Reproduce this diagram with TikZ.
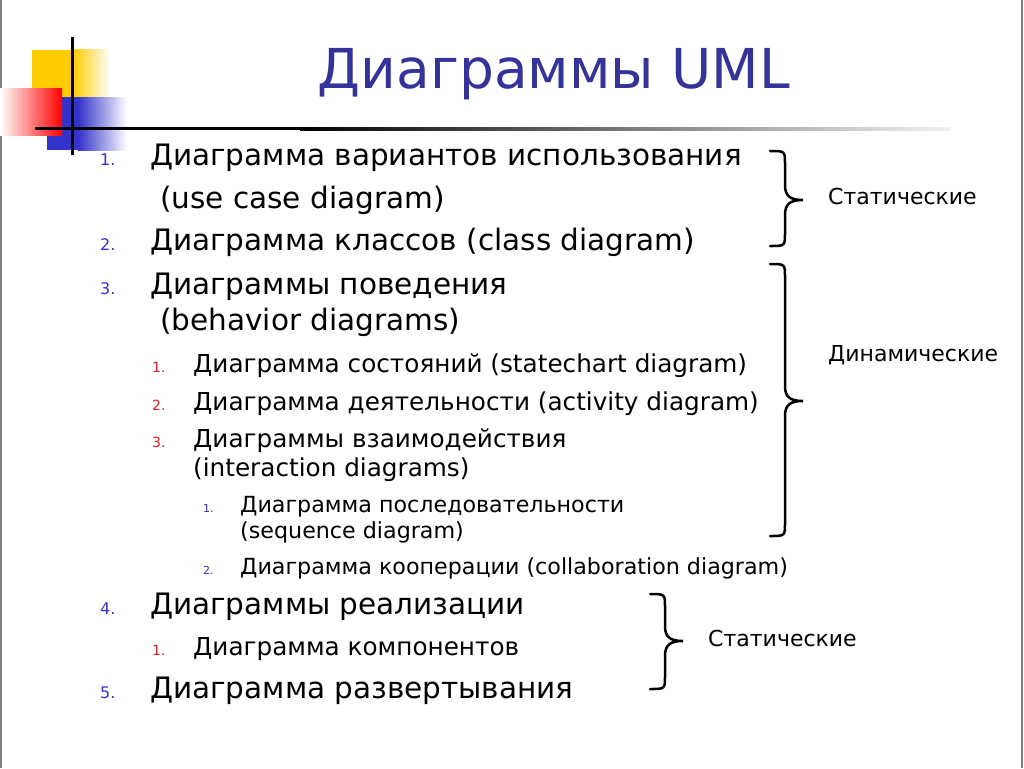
\documentclass[tikz,border=0pt]{standalone}
\usepackage{fontspec}
\setmainfont{DejaVu Sans}

\definecolor{titleblue}{RGB}{51,51,153}
\definecolor{numblue}{RGB}{51,51,204}
\definecolor{numred}{RGB}{230,30,40}
\definecolor{logoyellow}{RGB}{255,204,0}
\definecolor{logoblue}{RGB}{51,51,204}
\definecolor{logored}{RGB}{255,0,0}

\tikzset{
  lvla/.style={anchor=base west, inner sep=0pt, font=\fontsize{29.5}{29.5}\selectfont},
  lvlb/.style={anchor=base west, inner sep=0pt, font=\fontsize{24.7}{24.7}\selectfont},
  lvlc/.style={anchor=base west, inner sep=0pt, font=\fontsize{22.2}{22.2}\selectfont},
  numa/.style={anchor=base west, inner sep=0pt, text=numblue, font=\fontsize{16}{16}\selectfont},
  numb/.style={anchor=base west, inner sep=0pt, text=numred, font=\fontsize{14}{14}\selectfont},
  numc/.style={anchor=base west, inner sep=0pt, text=numblue, font=\fontsize{11}{11}\selectfont},
  side/.style={anchor=base west, inner sep=0pt, font=\fontsize{22}{22}\selectfont},
  bracket/.style={line width=2.5pt, line cap=round},
}

% x, top, tip, bottom
\newcommand{\grpbrace}[4]{%
  \draw[bracket] (#1,#2) .. controls (#1+15,#2) .. (#1+15,#2+13)
    -- (#1+15,#3-15) .. controls (#1+15,#3-4) and (#1+20,#3) .. (#1+33,#3)
    .. controls (#1+20,#3) and (#1+15,#3+4) .. (#1+15,#3+15)
    -- (#1+15,#4-13) .. controls (#1+15,#4) .. (#1,#4);}

\begin{document}
\begin{tikzpicture}[x=1pt, y=-1pt]
  \useasboundingbox (0,0) rectangle (1024,768);
  % frame
  \draw[gray, line width=1.5pt] (1,0) -- (1,768);
  \draw[gray, line width=1.5pt] (1022,0) -- (1022,768);
  % logo
  \fill[logoyellow] (32,50) rectangle (73,97);
  \shade[left color=logoyellow, right color=white] (73,50) rectangle (110,97);
  \fill[logoblue] (47,97) rectangle (78,150);
  \shade[left color=logoblue, right color=white] (78,97) rectangle (127,150);
  \shade[left color=white, right color=logored] (0,88) rectangle (62,135);
  \fill[black] (35,127) rectangle (300,130);
  \shade[left color=black, right color=black!5] (300,127) rectangle (950,130);
  \draw[black, line width=3pt] (72,37) -- (72,155);
  % title
  \path (554,88) node[anchor=base, inner sep=0pt, text=titleblue,
    font=\fontsize{55}{55}\selectfont] (title) {Диаграммы UML};
  % list
  \path
    (100,165) node[numa] (n1) {1.}
    (150,165) node[lvla] (t1) {Диаграмма вариантов использования}
    (160,208) node[lvla] (t1b) {(use case diagram)}
    (100,250) node[numa] (n2) {2.}
    (150,250) node[lvla] (t2) {Диаграмма классов (class diagram)}
    (100,294) node[numa] (n3) {3.}
    (150,294) node[lvla] (t3) {Диаграммы поведения}
    (160,330) node[lvla] (t3b) {(behavior diagrams)}
    (152,372) node[numb] (n31) {1.}
    (193,372) node[lvlb] (t31) {Диаграмма состояний (statechart diagram)}
    (152,410) node[numb] (n32) {2.}
    (193,410) node[lvlb] (t32) {Диаграмма деятельности (activity diagram)}
    (152,447) node[numb] (n33) {3.}
    (193,447) node[lvlb] (t33) {Диаграммы взаимодействия}
    (193,476) node[lvlb] (t33b) {(interaction diagrams)}
    (203,512) node[numc] (n331) {1.}
    (240,512) node[lvlc] (t331) {Диаграмма последовательности}
    (240,538) node[lvlc] (t331b) {(sequence diagram)}
    (203,574) node[numc] (n332) {2.}
    (240,574) node[lvlc] (t332) {Диаграмма кооперации (collaboration diagram)}
    (100,614) node[numa] (n4) {4.}
    (150,614) node[lvla] (t4) {Диаграммы реализации}
    (152,655) node[numb] (n41) {1.}
    (193,655) node[lvlb] (t41) {Диаграмма компонентов}
    (100,698) node[numa] (n5) {5.}
    (150,698) node[lvla] (t5) {Диаграмма развертывания};
  % groups
  \path
    (828,204) node[side] (stat1) {Статические}
    (828,361) node[side] (dyn) {Динамические}
    (708,646) node[side] (stat2) {Статические};
  \grpbrace{770}{151}{200}{246}
  \grpbrace{770}{264}{401}{536}
  \grpbrace{650}{594}{641}{689}
\end{tikzpicture}
\end{document}
